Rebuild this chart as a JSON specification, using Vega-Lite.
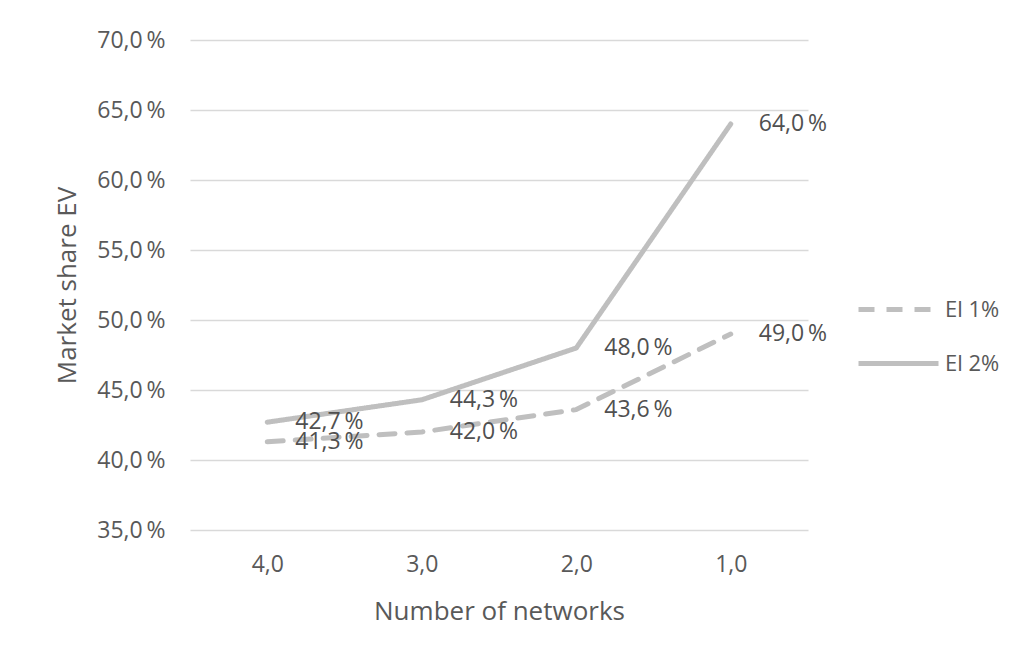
{
  "$schema": "https://vega.github.io/schema/vega-lite/v6.json",
  "width": 618,
  "height": 490,
  "autosize": "none",
  "padding": {"left": 190, "top": 40, "right": 216, "bottom": 133},
  "background": "white",
  "config": {
    "font": "Open Sans",
    "view": {"stroke": null},
    "locale": {
      "number": {
        "decimal": ",",
        "thousands": ".",
        "grouping": [3],
        "currency": ["", " €"],
        "percent": "\u2009%"
      }
    }
  },
  "data": {
    "values": [
      {"n": "4,0", "series": "El 1%", "share": 0.413},
      {"n": "3,0", "series": "El 1%", "share": 0.420},
      {"n": "2,0", "series": "El 1%", "share": 0.436},
      {"n": "1,0", "series": "El 1%", "share": 0.490},
      {"n": "4,0", "series": "El 2%", "share": 0.427},
      {"n": "3,0", "series": "El 2%", "share": 0.443},
      {"n": "2,0", "series": "El 2%", "share": 0.480},
      {"n": "1,0", "series": "El 2%", "share": 0.640}
    ]
  },
  "encoding": {
    "x": {
      "field": "n", "type": "ordinal", "sort": null,
      "axis": {
        "title": "Number of networks",
        "labelAngle": 0, "ticks": false, "domain": false,
        "labelFontSize": 23, "labelColor": "#595959", "labelPadding": 23,
        "titleFontSize": 26, "titleFontWeight": "normal", "titleColor": "#595959",
        "titlePadding": 22
      }
    },
    "y": {
      "field": "share", "type": "quantitative",
      "scale": {"domain": [0.35, 0.70], "nice": false, "zero": false},
      "axis": {
        "title": "Market share EV",
        "format": ".1%",
        "values": [0.35, 0.40, 0.45, 0.50, 0.55, 0.60, 0.65, 0.70],
        "ticks": false, "domain": false,
        "labelFontSize": 23, "labelColor": "#595959", "labelPadding": 25,
        "gridColor": "#D9D9D9", "gridWidth": 1.5,
        "titleFontSize": 26, "titleFontWeight": "normal", "titleColor": "#595959",
        "titlePadding": 16
      }
    }
  },
  "layer": [
    {
      "mark": {"type": "line", "color": "#BFBFBF", "strokeWidth": 5, "strokeCap": "round", "strokeJoin": "round"},
      "encoding": {
        "strokeDash": {
          "field": "series", "type": "nominal",
          "scale": {"domain": ["El 1%", "El 2%"], "range": [[16, 12], [1, 0]]},
          "legend": {
            "title": null,
            "orient": "none", "legendX": 666, "legendY": 227,
            "symbolType": "stroke", "symbolSize": 6400, "symbolStrokeWidth": 5,
            "symbolStrokeColor": "#BFBFBF",
            "labelFontSize": 22, "labelColor": "#595959", "labelOffset": 4,
            "rowPadding": -3
          }
        }
      }
    },
    {
      "mark": {"type": "text", "align": "left", "baseline": "middle", "dx": 28, "fontSize": 23, "color": "#505050"},
      "encoding": {
        "text": {"field": "share", "type": "quantitative", "format": ".1%"}
      }
    }
  ]
}
